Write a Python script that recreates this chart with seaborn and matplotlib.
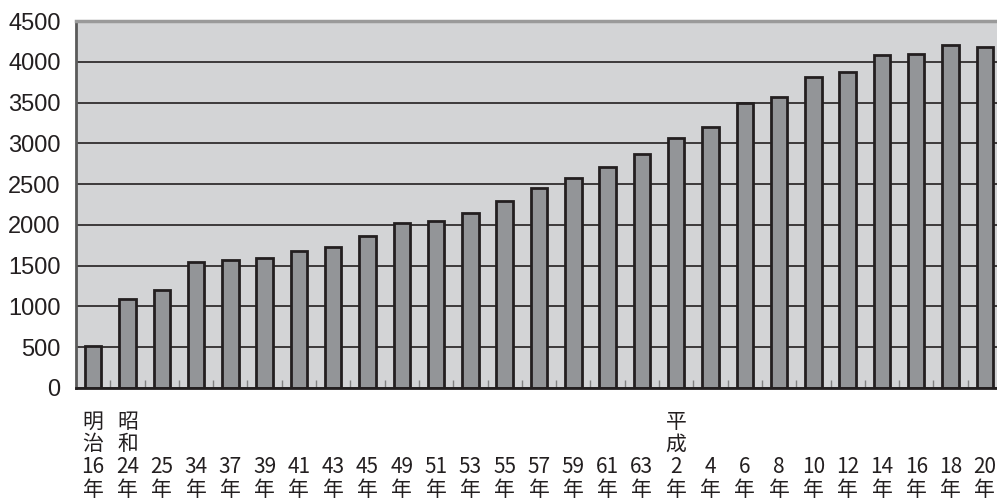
import matplotlib
matplotlib.use("Agg")
import matplotlib.pyplot as plt
from matplotlib.ticker import MultipleLocator, FixedLocator
import seaborn as sns
import pandas as pd

# Era name shown above the first year of each era
eras = ["明治", "昭和", "", "", "", "", "", "", "", "", "", "", "", "", "", "", "",
        "平成", "", "", "", "", "", "", "", "", ""]
years = ["16", "24", "25", "34", "37", "39", "41", "43", "45", "49", "51", "53", "55",
         "57", "59", "61", "63", "2", "4", "6", "8", "10", "12", "14", "16", "18", "20"]
values = [510, 1090, 1200, 1550, 1575, 1600, 1680, 1730, 1860, 2020, 2050, 2150, 2290,
          2450, 2580, 2710, 2870, 3060, 3200, 3490, 3570, 3810, 3870, 4080, 4100, 4210, 4185]

labels = ["\n".join(list(e) + [y, "年"]) for e, y in zip(eras, years)]
df = pd.DataFrame({"label": labels, "value": values})

sns.set_style("white")
plt.rcParams["font.family"] = ["Noto Sans CJK JP", "DejaVu Sans"]

ink = "#231f20"
fig = plt.figure(figsize=(9.97, 5.04), dpi=100)
ax = fig.add_axes([76 / 997, 116 / 504, 926 / 997, 367 / 504])
ax.set_facecolor("#d3d4d6")

sns.barplot(data=df, x="label", y="value", order=labels, color="#939598",
            saturation=1, edgecolor=ink, linewidth=2.0, width=0.48, ax=ax, zorder=3)

ax.set_xlim(-0.5, len(labels) - 0.5)
ax.set_ylim(0, 4500)
ax.yaxis.set_major_locator(MultipleLocator(500))
ax.grid(axis="y", color=ink, linewidth=1.2, zorder=1)
ax.set_axisbelow(True)
ax.set_xlabel("")
ax.set_ylabel("")

# y tick labels
ax.tick_params(axis="y", length=0, pad=11)
for t in ax.get_yticklabels():
    t.set_fontfamily(["Liberation Sans", "DejaVu Sans"])
    t.set_fontsize(17)
    t.set_color(ink)

# x tick labels: stacked characters aligned at their bottom line
ax.tick_params(axis="x", length=0, pad=81.5)
for t in ax.get_xticklabels():
    t.set_fontsize(15)
    t.set_color(ink)
    t.set_verticalalignment("bottom")
    t.set_linespacing(1.05)

# short inward ticks between categories
ax.xaxis.set_minor_locator(FixedLocator([i + 0.5 for i in range(len(labels) - 1)]))
ax.tick_params(axis="x", which="minor", direction="in", length=6, width=1,
               color="#808080", bottom=True)

for side, col, lw in [("top", "#9a9a9a", 2.5), ("left", "#5a5a5a", 2.0),
                      ("bottom", ink, 2.0), ("right", "#9a9a9a", 2.0)]:
    ax.spines[side].set_visible(True)
    ax.spines[side].set_color(col)
    ax.spines[side].set_linewidth(lw)
    ax.spines[side].set_zorder(4)

fig.savefig("out.png", dpi=100)
